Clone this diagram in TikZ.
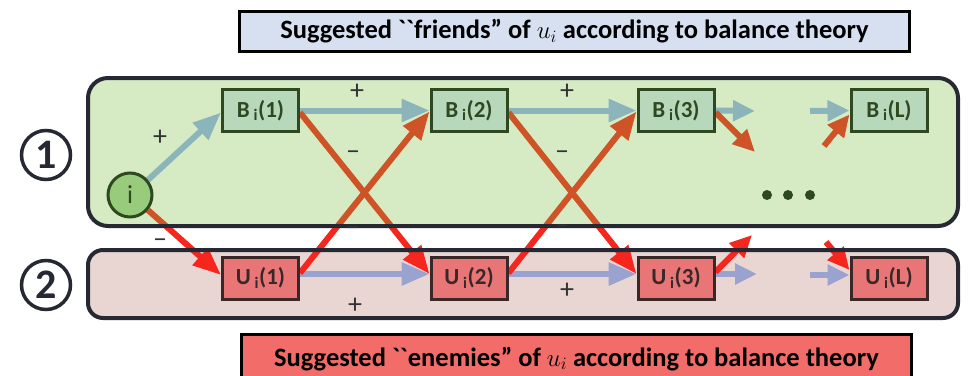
\documentclass[tikz,border=0pt]{standalone}
\usepackage{fontspec}
\setmainfont{Carlito}
\newfontfamily\plainticks{Carlito}[Ligatures=TeXOff]
\usetikzlibrary{arrows.meta,backgrounds}

\definecolor{framegray}{HTML}{262833}
\definecolor{veilgreen}{RGB}{118,188,58}
\definecolor{pinkbg}{HTML}{E9D6D3}
\definecolor{posblue}{RGB}{149,177,244}
\definecolor{poslilac}{HTML}{9AA2D0}
\definecolor{negred}{RGB}{245,38,30}
\definecolor{bfill}{HTML}{B8D8BC}
\definecolor{bdark}{HTML}{2E4820}
\definecolor{ufill}{HTML}{E87676}
\definecolor{udark}{HTML}{3A2828}
\definecolor{ifill}{HTML}{98CC7C}
\definecolor{friendbg}{HTML}{D6E0F1}
\definecolor{enemybg}{HTML}{F26C69}

\pgfdeclarelayer{under}
\pgfdeclarelayer{links}
\pgfdeclarelayer{veil}
\pgfsetlayers{under,links,veil,main}

\begin{document}
\begin{tikzpicture}[x=1pt,y=-1pt,
    bnode/.style={draw=bdark,fill=bfill,text=bdark,line width=3pt,
      minimum width=76pt,minimum height=42pt,inner sep=0pt,
      font=\fontsize{23}{23}\selectfont\bfseries},
    unode/.style={bnode,draw=udark,fill=ufill,text=udark},
    linkB/.style={posblue,line width=6pt,-{Triangle[length=28pt,width=22pt]}},
    linkU/.style={linkB,poslilac},
    linkN/.style={linkB,negred},
    sign/.style={inner sep=0pt,text=black!80,font=\fontsize{28}{28}\selectfont},
    headbox/.style={draw=black,line width=3pt,minimum width=670pt,minimum height=40pt,
      font=\fontsize{26.5}{26.5}\selectfont\bfseries},
    numbox/.style={circle,draw=framegray,line width=3.5pt,minimum size=49pt,inner sep=0pt,
      text=framegray,font=\fontsize{42}{42}\selectfont\bfseries}]
  \useasboundingbox (0,0) rectangle (968,375);

  % titles
  \node[headbox,fill=friendbg] (friends) at (574.5,31.5)
    {Suggested {\plainticks ``}friends'' of $u_i$ according to balance theory};
  \node[headbox,fill=enemybg,minimum height=50pt] (enemies) at (576.5,359)
    {\raisebox{5pt}{Suggested {\plainticks ``}enemies'' of $u_i$ according to balance theory}};

  \node[numbox] (one) at (46,155) {1};
  \node[numbox] (two) at (46,285) {2};

  % the two rows
  \node[circle,draw=bdark,fill=ifill,line width=3pt,minimum size=44pt,inner sep=0pt,
    text=bdark,font=\fontsize{26}{26}\selectfont] (i) at (130,195) {i};
  \node[bnode] (B1) at (260.5,110.5) {B\,\textsubscript{i}(1)};
  \node[bnode] (B2) at (469,110.5) {B\,\textsubscript{i}(2)};
  \node[bnode] (B3) at (676,110.5) {B\,\textsubscript{i}(3)};
  \node[bnode] (BL) at (889,110.5) {B\,\textsubscript{i}(L)};
  \node[unode] (U1) at (260.5,278) {U\,\textsubscript{i}(1)};
  \node[unode] (U2) at (469,278) {U\,\textsubscript{i}(2)};
  \node[unode] (U3) at (676,278) {U\,\textsubscript{i}(3)};
  \node[unode] (UL) at (889,278) {U\,\textsubscript{i}(L)};

  \foreach \x [count=\k] in {767,788,810}
    \fill[bdark] (\x,195) circle (5pt) coordinate (dot\k);

  % loose ends before and after the dots
  \coordinate (bOut) at (755,111);
  \coordinate (bIn) at (810,111);
  \coordinate (nOutB) at (755,152);
  \coordinate (nInB) at (824,146);
  \coordinate (uOut) at (757,274);
  \coordinate (uIn) at (810,275);
  \coordinate (nOutU) at (752,235);
  \coordinate (nInU) at (826,242);

  \node[sign] (p1) at (160,138) {+};
  \node[sign] (m1) at (160,243) {–};
  \node[sign] (p2) at (357,92) {+};
  \node[sign] (m2) at (353,155) {–};
  \node[sign] (m3) at (353,231) {–};
  \node[sign] (p3) at (355,306) {+};
  \node[sign] (p4) at (567,92) {+};
  \node[sign] (m4) at (562,155) {–};
  \node[sign] (m5) at (562,229) {–};
  \node[sign] (p5) at (567,291) {+};

  \begin{pgfonlayer}{under}
    \fill[pinkbg,rounded corners=15pt] (88,250) rectangle (958,318);
  \end{pgfonlayer}

  \begin{pgfonlayer}{links}
    \draw[linkB] (i.40) -- ([yshift=-2pt]B1.west);
    \draw[linkN] (i.-40) -- ([yshift=3pt]U1.west);
    \draw[linkB] (B1.east) -- (B2.west);
    \draw[linkB] (B2.east) -- (B3.west);
    \draw[linkU] ([yshift=4pt]U1.east) -- ([yshift=4pt]U2.west);
    \draw[linkU] ([yshift=4pt]U2.east) -- ([yshift=4pt]U3.west);
    \draw[linkN] ([yshift=-2pt]B1.east) -- ([yshift=4pt]U2.west);
    \draw[linkN] ([yshift=5pt]U1.east) -- ([yshift=-1pt]B2.west);
    \draw[linkN] ([yshift=-2pt]B2.east) -- ([yshift=4pt]U3.west);
    \draw[linkN] ([yshift=5pt]U2.east) -- ([yshift=-1pt]B3.west);
    \draw[linkB,-{Triangle[length=22pt,width=20pt]}] (B3.east) -- (bOut);
    \draw[linkB,-{Triangle[length=22pt,width=20pt]}] (bIn) -- (BL.west);
    \draw[linkN,-{Triangle[length=22pt,width=20pt]}] ([yshift=-2pt]B3.east) -- (nOutB);
    \draw[linkN,-{Triangle[length=22pt,width=20pt]}] (nInB) -- ([yshift=-4pt]BL.west);
    \draw[linkU,-{Triangle[length=22pt,width=20pt]}] ([yshift=4pt]U3.east) -- (uOut);
    \draw[linkU,-{Triangle[length=22pt,width=20pt]}] (uIn) -- ([yshift=3pt]UL.west);
    \draw[linkN,-{Triangle[length=22pt,width=20pt]}] ([yshift=6pt]U3.east) -- (nOutU);
    \draw[linkN,-{Triangle[length=22pt,width=20pt]}] (nInU) -- ([yshift=8pt]UL.west);
  \end{pgfonlayer}

  \begin{pgfonlayer}{veil}
    \fill[veilgreen,fill opacity=0.3,rounded corners=20pt] (88,78) rectangle (958,226);
    \draw[framegray,line width=4pt,rounded corners=20pt] (88,78) rectangle (958,226);
    \draw[framegray,line width=4pt,rounded corners=15pt] (88,250) rectangle (958,318);
  \end{pgfonlayer}
\end{tikzpicture}
\end{document}
